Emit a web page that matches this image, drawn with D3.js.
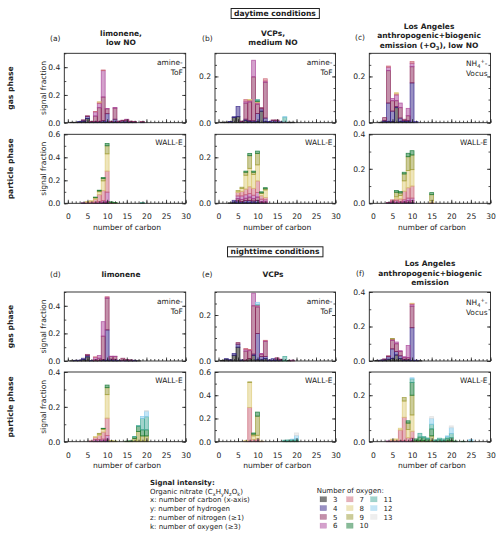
<!DOCTYPE html>
<html>
<head>
<meta charset="utf-8">
<script src="https://cdn.jsdelivr.net/npm/d3@7"></script>
<style>
  body { margin: 0; background: #fff; }
  text { font-family: "DejaVu Sans", sans-serif; fill: #222; }
</style>
</head>
<body>
<div id="chart"></div>
<script>
// Número de oxígenos (O3 ... O13) y colores
const oxygenNumbers = [3, 4, 5, 6, 7, 8, 9, 10, 11, 12, 13];
const oxygenColors = ["#000000", "#332288", "#882255", "#AA4499", "#CC6677", "#DDCC77",
                      "#999933", "#117733", "#44AA99", "#88CCEE", "#DDDDDD"];
const xTicks = [0, 5, 10, 15, 20, 25, 30];

// Cada fila: [carbono, O3, O4, O5, O6, O7, O8, O9, O10, O11, O12, O13]
const gasA = [
  [1, .003], [2, .003], [3, .005, .003], [4, .01, .008, .002], [5, .03, .015, .005],
  [6, .003, .003, .004], [7, .003, .005, .04, .03, .003], [8, .003, .005, .1, .03, .01, .003],
  [9, .005, .01, .17, .19, .005], [10, .005, .06, .035, .003], [11, .003, .003, .005],
  [12, .005, .02, .08, .005], [13, .002, .005, .005], [14, .003, .01, .005],
  [15, .003, .01, .01, .002], [16, .002, .005, .004], [17, .002, .003, .003], [19, 0, .003, .005]
];
const partA = [
  [4, 0, .002, .002], [5, 0, 0, 0, .003, .007, .005], [6, 0, 0, 0, .005, .012, .007],
  [7, 0, 0, .003, .007, .025, .01, .005, .004], [8, 0, 0, .005, .01, .06, .025, .008, .006],
  [9, 0, .003, .007, .015, .085, .085, .02, .01], [10, .002, .005, .01, .08, .183, .15, .07, .02],
  [11, 0, 0, 0, .002, .002, .002, .002, .005], [12, 0, 0, 0, 0, .002, .002, .001, .002],
  [19, 0, 0, 0, 0, 0, 0, 0, .002, .004]
];
const gasB = [
  [1, .002], [2, .003], [3, .004, .001], [4, .022, .004], [5, .026, .044], [6, .003, .002, .002],
  [7, .01, .005, .07, .008, .007], [8, .005, .005, .08, .005, .003, .002], [9, .003, .005, .19, .072],
  [10, .005, .035, .04, .005, .003, .003, 0, .004, .005], [11, .05, .01, .005],
  [12, .005, .015, .155, .005, .01], [13, .003, .002], [14, .002, .008, .002], [15, .002, .006, .004],
  [16, .002, .002], [17, 0, 0, .002, 0, 0, 0, 0, 0, .022, .002], [18, .002], [19, .002]
];
const partB = [
  [3, .002], [4, .005, .008], [5, .002, .008, .01, .012, .015, .006, .002],
  [6, .002, .005, .01, .015, .02, .013, .005], [7, .002, .01, .01, .015, .025, .06, .013, .005],
  [8, .002, .01, .015, .015, .03, .08, .055, .01], [9, .002, .008, .01, .015, .03, .06, .01, .005],
  [10, .002, .01, .015, .02, .05, .07, .05, .01], [11, 0, .003, .005, .01, .015, .01, .002, .005],
  [12, 0, .002, .005, .008, .01, .033, .005, .005]
];
const gasC = [
  [2, .002], [3, .005, .005, .012], [4, .005, .08, .14, .015, .005], [5, .005, .045, .045, .01],
  [6, .065, .005, .025, .025, .005, .005], [7, .005, .015, .045, .02], [8, .005, .005, .005],
  [9, .005, .005, .02, .032], [10, .002, .17, .07, .015, .008], [11, 0, .005]
];
const partC = [
  [4, 0, .003, .002], [5, 0, .003, .005, .005, .007], [6, 0, 0, .005, .01, .01, .012, .027, .01],
  [7, 0, 0, .005, .005, .015, .02, .015, .008], [8, 0, .003, .007, .01, .05, .06, .04, .01],
  [9, 0, .005, .01, .015, .06, .1, .08, .02], [10, 0, .005, .01, .015, .07, .095, .085, .025],
  [15, 0, 0, 0, 0, .005, .01, .035, .012]
];
const gasD = [
  [1, .002], [2, .003, .002], [3, .004, .002], [4, .01, .01], [5, .03, .01, .008], [6, .002, .002],
  [7, .002, 0, .01, .015, .003], [8, .003, .002, .015, .02], [9, .005, .005, .17, .105],
  [10, .005, .22, .23, .008, .002], [11, .003, .01, .02, .002], [12, .002, .01, .02, .003],
  [13, .003, .002], [14, 0, .005, .015], [15, .002, .005, .003], [16, .002, .004, .002],
  [17, .002, .003], [18, .002]
];
const partD = [
  [6, 0, 0, 0, .002, .003], [7, 0, 0, .003, .01, .012, .005], [8, 0, 0, .003, .01, .022, .008, .005],
  [9, 0, 0, .005, .01, .04, .015, .005, .002], [10, 0, .005, .01, .02, .1, .135, .04, .015],
  [11, 0, 0, 0, 0, .002, .002, .002], [12, 0, 0, 0, 0, 0, .002, .002],
  [15, 0, 0, 0, 0, 0, 0, .002, .001], [16, 0, 0, 0, 0, 0, 0, .003, .002],
  [17, 0, 0, 0, 0, 0, .003, .015, .01, .002], [18, 0, 0, 0, 0, 0, .003, .055, .03, .005],
  [19, 0, 0, 0, 0, 0, .003, .03, .035, .065, .012], [20, 0, 0, 0, 0, 0, .003, .03, .035, .075, .032, .003]
];
const gasE = [
  [1, .003], [2, .008, .002], [3, .004, .002], [4, .025, .008], [5, .06, .013, .007], [6, .003, .002],
  [7, .003, 0, .04, .008, .003], [8, .01, 0, .035, .003, .002], [9, .025, .005, .21, .055],
  [10, .005, .115, .115, .005, .003, 0, 0, 0, .003, .009], [11, .005, .015, .01, .003],
  [12, .01, .01, .065, .003, .002], [13, .002, .003], [14, .002, .008], [15, .002, .006, .006],
  [16, .002, .003, .003], [17, 0, 0, 0, 0, 0, 0, 0, .002, .018], [18, .002], [19, 0, 0, .002, .002]
];
const partE = [
  [7, 0, 0, 0, 0, .003, .007], [8, 0, 0, 0, .005, .29, .215, .005], [9, 0, 0, 0, 0, .02, .03, .015, .01],
  [10, 0, 0, 0, .005, .02, .03, .165, .035], [11, 0, 0, 0, 0, .003, .003],
  [17, 0, 0, 0, 0, 0, 0, 0, .005, .008], [18, 0, 0, 0, 0, 0, 0, 0, .005, .01],
  [19, 0, 0, 0, 0, 0, 0, 0, .008, .012, .002], [20, 0, 0, 0, 0, 0, 0, 0, .008, .015, .03, .022]
];
const gasF = [
  [1, .003], [2, .003, .002], [3, .005, .005, .002], [4, .01, .015, .005],
  [5, .015, .055, .05, .005, .002, 0, .003], [6, .035, .02, .045, .01], [7, .015, .015, .025, .005],
  [8, .005, .005, .01, .005], [9, .005, .005, .01, .07], [10, .003, .19, .125, .01, .005, .002],
  [11, .002, .003], [12, .002]
];
const partF = [
  [4, 0, 0, .002, .001], [5, 0, 0, 0, .002, .005, .004], [6, 0, 0, 0, .002, .005, .005],
  [7, 0, 0, 0, .005, .045, .008], [8, 0, 0, 0, .005, .1, .07, .015], [9, 0, 0, 0, .002, .015, .035, .028, .01],
  [10, 0, 0, .005, .01, .03, .07, .085, .055, .015, .005], [11, 0, 0, 0, 0, 0, 0, .004, .008],
  [12, 0, 0, 0, 0, 0, 0, .005, .015, .016], [13, 0, 0, 0, 0, 0, 0, .005, .012, .005],
  [14, 0, 0, 0, 0, 0, 0, .002, .01, .004], [15, 0, 0, 0, 0, 0, .005, .02, .03, .02, .025, .008],
  [16, 0, 0, 0, 0, 0, 0, 0, .004, .004], [17, 0, 0, 0, 0, 0, 0, 0, .008, .007],
  [18, 0, 0, 0, 0, 0, 0, 0, .006, .006], [19, 0, 0, 0, 0, 0, 0, .003, .01, .008, .004],
  [20, 0, 0, 0, 0, 0, 0, .005, .012, .018, .025, .008], [21, 0, 0, 0, 0, 0, 0, 0, .003],
  [23, 0, 0, 0, 0, 0, 0, 0, .002], [25, 0, 0, 0, 0, 0, 0, 0, 0, .004, .006]
];

const W = 500, H = 535;
const svg = d3.select("#chart").append("svg").attr("width", W).attr("height", H);

// Posiciones de columnas y filas
const cols = [{ x0: 64.3, x1: 185.7 }, { x0: 215, x1: 335.5 }, { x0: 369.3, x1: 490.5 }];
const rows = [{ y0: 53.3, y1: 122.7 }, { y0: 134.3, y1: 203.3 }, { y0: 292, y1: 361 }, { y0: 372, y1: 441.7 }];

const panels = [
  { data: gasA, col: 0, row: 0, ymax: 0.5, tag: "amine" },
  { data: partA, col: 0, row: 1, ymax: 0.6, tag: "wall" },
  { data: gasB, col: 1, row: 0, ymax: 0.3, tag: "amine" },
  { data: partB, col: 1, row: 1, ymax: 0.3, tag: "wall" },
  { data: gasC, col: 2, row: 0, ymax: 0.3, tag: "vocus" },
  { data: partC, col: 2, row: 1, ymax: 0.4, tag: "wall" },
  { data: gasD, col: 0, row: 2, ymax: 0.5, tag: "amine" },
  { data: partD, col: 0, row: 3, ymax: 0.4, tag: "wall" },
  { data: gasE, col: 1, row: 2, ymax: 0.3, tag: "amine" },
  { data: partE, col: 1, row: 3, ymax: 0.6, tag: "wall" },
  { data: gasF, col: 2, row: 2, ymax: 0.4, tag: "vocus" },
  { data: partF, col: 2, row: 3, ymax: 0.3, tag: "wall" }
];

const keys = oxygenNumbers.map(String);
const stack = d3.stack().keys(keys);
const color = d3.scaleOrdinal().domain(keys).range(oxygenColors);

function drawPanel(p) {
  const c = cols[p.col], r = rows[p.row];
  const isParticle = p.row % 2 === 1;
  const x = d3.scaleLinear().domain([-0.9, 30]).range([c.x0, c.x1]);
  const y = d3.scaleLinear().domain([0, p.ymax]).range([r.y1, r.y0]);
  const g = svg.append("g");

  // Tabla para d3.stack
  const table = p.data.map(row => {
    const o = { carbon: row[0] };
    keys.forEach((k, i) => { o[k] = row[i + 1] || 0; });
    return o;
  });
  const series = stack(table);

  series.forEach(s => {
    g.append("g").selectAll("rect")
      .data(s.filter(d => d[1] - d[0] > 0))
      .enter().append("rect")
      .attr("x", d => x(d.data.carbon - 0.5))
      .attr("width", d => x(d.data.carbon + 0.5) - x(d.data.carbon - 0.5))
      .attr("y", d => y(d[1]))
      .attr("height", d => y(d[0]) - y(d[1]))
      .style("fill", color(s.key))
      .style("fill-opacity", 0.5)
      .style("stroke", color(s.key))
      .style("stroke-opacity", 0.8)
      .style("stroke-width", 0.8);
  });

  // Ticks del eje x (menores y mayores, hacia dentro)
  g.append("g").attr("transform", `translate(0,${r.y1})`)
    .call(d3.axisBottom(x).tickValues(d3.range(0, 31)).tickSize(-2).tickFormat(""));
  g.append("g").attr("transform", `translate(0,${r.y1})`)
    .call(d3.axisBottom(x).tickValues(xTicks).tickSize(-3.5).tickPadding(10.5)
      .tickFormat(isParticle ? d3.format("d") : ""));

  // Ticks del eje y
  const major = d3.range(0, p.ymax + 1e-9, 0.2);
  const minorStep = p.ymax <= 0.3 ? 0.05 : 0.1;
  const minor = d3.range(0, p.ymax + 1e-9, minorStep);
  g.append("g").attr("transform", `translate(${c.x0},0)`)
    .call(d3.axisLeft(y).tickValues(minor).tickSize(-2).tickFormat(""));
  g.append("g").attr("transform", `translate(${c.x0},0)`)
    .call(d3.axisLeft(y).tickValues(major).tickSize(-3.5).tickPadding(4).tickFormat(d3.format(".1f")));
  g.append("g").attr("transform", `translate(${c.x1},0)`)
    .call(d3.axisRight(y).tickValues(minor).tickSize(-2).tickFormat(""));
  g.append("g").attr("transform", `translate(${c.x1},0)`)
    .call(d3.axisRight(y).tickValues(major).tickSize(-3.5).tickFormat(""));

  g.selectAll(".domain").remove();
  g.selectAll(".tick line").style("stroke", "#222").style("stroke-width", 0.8);
  g.selectAll(".tick text").style("font-size", "7.6px")
    .style("font-family", "DejaVu Sans");

  // Marco
  g.append("rect")
    .attr("x", c.x0).attr("y", r.y0)
    .attr("width", c.x1 - c.x0).attr("height", r.y1 - r.y0)
    .style("fill", "none").style("stroke", "#222").style("stroke-width", 0.9);

  // Etiqueta del instrumento
  const tx = c.x1 - 3;
  if (p.tag === "wall") {
    g.append("text").attr("x", tx).attr("y", r.y0 + 11).attr("text-anchor", "end")
      .style("font-size", "7.4px").text("WALL-E");
  } else if (p.tag === "amine") {
    g.append("text").attr("x", tx).attr("y", r.y0 + 12).attr("text-anchor", "end")
      .style("font-size", "7.4px").text("amine-");
    g.append("text").attr("x", tx).attr("y", r.y0 + 21.5).attr("text-anchor", "end")
      .style("font-size", "7.4px").text("ToF");
  } else {
    const t = g.append("text").attr("x", tx).attr("y", r.y0 + 13).attr("text-anchor", "end")
      .style("font-size", "7.4px");
    t.append("tspan").text("NH");
    t.append("tspan").attr("dy", 2).style("font-size", "5.2px").text("4");
    t.append("tspan").attr("dy", -5).style("font-size", "5.2px").text("+");
    t.append("tspan").attr("dy", 3).text("-");
    g.append("text").attr("x", tx).attr("y", r.y0 + 23).attr("text-anchor", "end")
      .style("font-size", "7.4px").text("Vocus");
  }

  // Etiqueta del eje x
  if (isParticle) {
    g.append("text").attr("x", (c.x0 + c.x1) / 2 + 2).attr("y", r.y1 + 26.5)
      .attr("text-anchor", "middle").style("font-size", "7.6px").text("number of carbon");
  }
  // Etiqueta del eje y (solo primera columna)
  if (p.col === 0) {
    g.append("text")
      .attr("transform", `translate(46,${(r.y0 + r.y1) / 2}) rotate(-90)`)
      .attr("text-anchor", "middle").style("font-size", "7.6px").text("signal fraction");
    g.append("text")
      .attr("transform", `translate(13,${(r.y0 + r.y1) / 2}) rotate(-90)`)
      .attr("text-anchor", "middle").style("font-size", "7.6px").style("font-weight", "bold")
      .text(isParticle ? "particle phase" : "gas phase");
  }
}

panels.forEach(drawPanel);

// Títulos de cada columna
function title(lines, cx, baseY, tag, tagX, tagY) {
  lines.forEach((l, i) => {
    const t = svg.append("text").attr("x", cx).attr("y", baseY + i * 9.3)
      .attr("text-anchor", "middle").style("font-size", "7.5px").style("font-weight", "bold");
    if (Array.isArray(l)) {
      l.forEach(part => {
        const ts = t.append("tspan").text(part.t);
        if (part.sub) ts.attr("dy", 2).style("font-size", "5.2px");
        if (part.back) ts.attr("dy", -2);
      });
    } else {
      t.text(l);
    }
  });
  svg.append("text").attr("x", tagX).attr("y", tagY).style("font-size", "7.5px").text(tag);
}

title(["limonene,", "low NO"], 121, 36, "(a)", 50, 40.5);
title(["VCPs,", "medium NO"], 273, 36, "(b)", 202, 40.5);
title(["Los Angeles", "anthropogenic+biogenic",
  [{ t: "emission (+O" }, { t: "3", sub: true }, { t: "), low NO", back: true }]], 429, 29, "(c)", 355, 40);
title(["limonene"], 121, 277, "(d)", 50, 277);
title(["VCPs"], 273, 277, "(e)", 202, 277);
title(["Los Angeles", "anthropogenic+biogenic", "emission"], 430, 266.3, "(f)", 356, 276);

// Recuadros de condiciones
function boxedLabel(txt, cx, baseY) {
  const t = svg.append("text").attr("x", cx).attr("y", baseY).attr("text-anchor", "middle")
    .style("font-size", "7.6px").style("font-weight", "bold").text(txt);
  const bb = t.node().getBBox();
  svg.append("rect")
    .attr("x", bb.x - 3).attr("y", bb.y - 0.5).attr("width", bb.width + 6).attr("height", bb.height + 1)
    .style("fill", "none").style("stroke", "#222").style("stroke-width", 1);
}
boxedLabel("daytime conditions", 275, 16);
boxedLabel("nighttime conditions", 275, 254.3);

// Leyenda
const leg = svg.append("g");
leg.append("text").attr("x", 150).attr("y", 485).style("font-size", "7px").style("font-weight", "bold")
  .text("Signal intensity:");
const on = leg.append("text").attr("x", 150).attr("y", 493.7).style("font-size", "7px");
[["Organic nitrate (C"], ["x", 1], ["H"], ["y", 1], ["N"], ["z", 1], ["O"], ["k", 1], [")"]].forEach((p, i, arr) => {
  const ts = on.append("tspan").text(p[0]);
  if (p[1]) ts.attr("dy", 1.8).style("font-size", "5px");
  else if (i > 0 && arr[i - 1][1]) ts.attr("dy", -1.8);
});
const legendLines = ["x: number of carbon (x-axis)", "y: number of hydrogen",
  "z: number of nitrogen (\u22651)", "k: number of oxygen (\u22653)"];
legendLines.forEach((l, i) => {
  leg.append("text").attr("x", 150).attr("y", 502.4 + i * 8.7).style("font-size", "7px").text(l);
});

leg.append("text").attr("x", 316.7).attr("y", 492.6).style("font-size", "7px").text("Number of oxygen:");
const legCols = [320, 346.5, 370.5];
oxygenNumbers.forEach((o, i) => {
  const col = Math.floor(i / 4), rw = i % 4;
  const cy = 499.3 + rw * 8.8;
  leg.append("rect").attr("x", legCols[col]).attr("y", cy - 2.6).attr("width", 6.6).attr("height", 5.2)
    .style("fill", oxygenColors[i]).style("fill-opacity", 0.5)
    .style("stroke", oxygenColors[i]).style("stroke-opacity", 0.3).style("stroke-width", 0.5);
  leg.append("text").attr("x", legCols[col] + 13).attr("y", cy + 2.6).style("font-size", "7px").text(o);
});

// Color de texto explícito para todo
svg.selectAll("text").style("fill", "#222");
</script>
</body>
</html>
